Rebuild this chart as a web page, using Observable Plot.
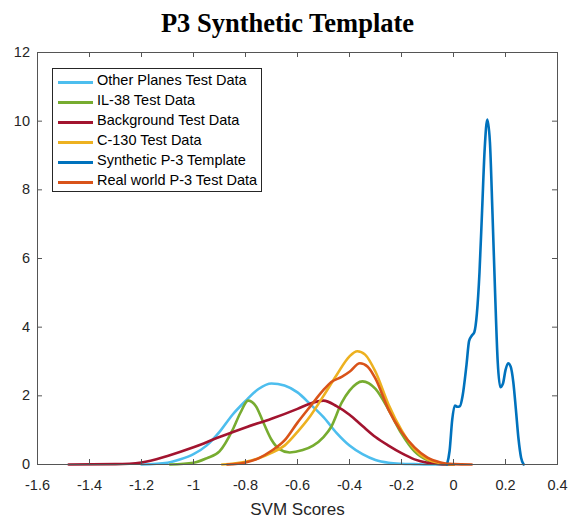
<!DOCTYPE html>
<html><head><meta charset="utf-8">
<script src="https://cdn.jsdelivr.net/npm/d3@7"></script>
<script src="https://cdn.jsdelivr.net/npm/@observablehq/plot@0.6"></script>
<style>
body{margin:0;background:#fff;}
#wrap{position:relative;width:575px;height:521px;overflow:hidden;}
#title{position:absolute;left:0;top:10px;width:575px;text-align:center;font:bold 26.5px "Liberation Serif","Times New Roman",serif;line-height:26.5px;color:#000;}
#legend{position:absolute;left:52px;top:68px;width:208px;height:119px;border:1px solid #262626;background:#fff;padding-top:3px;box-sizing:content-box;}
.row{position:relative;height:20.1px;line-height:20px;font:14.5px "Liberation Sans",Arial,sans-serif;color:#000;}
.row .sw{position:absolute;left:5px;top:9px;width:35px;height:3px;}
.row .lb{position:absolute;left:44px;top:0;white-space:nowrap;}
</style></head><body><div id="wrap"><div id="title">P3 Synthetic Template</div></div>
<script>
const titleText = "P3 Synthetic Template";
const xLabel = "SVM Scores";
const xTicks = [-1.6,-1.4,-1.2,-1.0,-0.8,-0.6,-0.4,-0.2,0,0.2,0.4];
const yTicks = [0,2,4,6,8,10,12];
const seriesNames = ["Other Planes Test Data","IL-38 Test Data","Background Test Data","C-130 Test Data","Synthetic P-3 Template","Real world P-3 Test Data"];
const seriesColors = ["#4DBEEE","#77AC30","#A2142F","#EDB120","#0072BD","#D95319"];

const otherX = [-1.2,-1.1,-1.05,-1.0,-0.95,-0.9,-0.85,-0.8,-0.75,-0.7,-0.65,-0.6,-0.55,-0.5,-0.45,-0.4,-0.35,-0.3,-0.25,-0.2,-0.15,-0.1,-0.05,0.0];
const otherY = [0,0.05,0.15,0.3,0.55,0.95,1.45,1.85,2.2,2.36,2.3,2.1,1.75,1.38,0.92,0.55,0.3,0.13,0.05,0.02,0.01,0,0,0];

const il38X = [-1.09,-1.0,-0.95,-0.9,-0.85,-0.82,-0.79,-0.76,-0.73,-0.7,-0.67,-0.63,-0.58,-0.54,-0.5,-0.47,-0.43,-0.4,-0.35,-0.3,-0.25,-0.2,-0.15,-0.1,-0.05,0.0];
const il38Y = [0,0.05,0.18,0.38,1.0,1.5,1.86,1.7,1.2,0.72,0.45,0.35,0.42,0.55,0.8,1.1,1.8,2.15,2.42,2.2,1.6,0.9,0.38,0.12,0.02,0];

const bgX = [-1.48,-1.3,-1.2,-1.1,-1.0,-0.9,-0.8,-0.7,-0.6,-0.55,-0.5,-0.45,-0.4,-0.35,-0.3,-0.25,-0.2,-0.15,-0.1,-0.05,0.0];
const bgY = [0,0.01,0.06,0.25,0.5,0.8,1.08,1.33,1.62,1.78,1.86,1.7,1.45,1.12,0.8,0.55,0.33,0.15,0.05,0.01,0];

const c130X = [-0.89,-0.8,-0.75,-0.7,-0.65,-0.6,-0.55,-0.5,-0.45,-0.4,-0.37,-0.34,-0.3,-0.25,-0.2,-0.15,-0.1,-0.05,0.0];
const c130Y = [0,0.08,0.18,0.34,0.55,0.95,1.42,2.0,2.6,3.15,3.3,3.2,2.7,1.75,1.0,0.45,0.15,0.04,0];

const synthX = [-0.025,-0.015,-0.005,0.005,0.015,0.025,0.035,0.05,0.06,0.07,0.08,0.09,0.1,0.11,0.12,0.13,0.14,0.15,0.16,0.17,0.18,0.19,0.2,0.21,0.22,0.23,0.24,0.25,0.26,0.27];
const synthY = [0,0.4,1.3,1.72,1.68,1.7,2.0,2.9,3.6,3.75,3.85,4.4,5.6,7.4,9.2,10.05,9.4,7.3,5.0,3.0,2.25,2.35,2.75,2.95,2.85,2.4,1.6,0.75,0.2,0];

const realX = [-0.87,-0.8,-0.75,-0.7,-0.65,-0.6,-0.55,-0.5,-0.47,-0.43,-0.4,-0.36,-0.33,-0.3,-0.25,-0.2,-0.15,-0.1,-0.05,0.0,0.07];
const realY = [0,0.06,0.18,0.4,0.7,1.22,1.7,2.17,2.4,2.55,2.7,2.95,2.85,2.5,1.6,0.95,0.5,0.2,0.06,0.01,0];

const seriesX = [otherX, il38X, bgX, c130X, synthX, realX];
const seriesY = [otherY, il38Y, bgY, c130Y, synthY, realY];

const W = 575, H = 521, mT = 52, mB = 57, mL = 37, mR = 18;
const frameH = H - mT - mB, frameW = W - mL - mR;
const fmt = d => String(Math.round(d * 10) / 10);
const axisColor = "#555";

const lineMarks = seriesNames.map((name, i) => {
  const rows = seriesX[i].map((x, j) => ({x, y: seriesY[i][j]}));
  return Plot.line(rows, {x: "x", y: "y", stroke: seriesColors[i], strokeWidth: 2.6, curve: "monotone-x"});
});

const chart = Plot.plot({
  width: W, height: H,
  marginTop: mT, marginBottom: mB, marginLeft: mL, marginRight: mR,
  style: {fontFamily: "'Liberation Sans', Arial, sans-serif", fontSize: "14.5px", color: "#262626", background: "#fff"},
  x: {domain: [-1.6, 0.4]},
  y: {domain: [0, 12]},
  marks: [
    ...lineMarks,
    Plot.frame({stroke: axisColor}),
    Plot.tickX(xTicks, {x: d => d, insetTop: frameH - 5, stroke: axisColor}),
    Plot.tickX(xTicks, {x: d => d, insetBottom: frameH - 5, stroke: axisColor}),
    Plot.tickY(yTicks, {y: d => d, insetRight: frameW - 5, stroke: axisColor}),
    Plot.tickY(yTicks, {y: d => d, insetLeft: frameW - 5, stroke: axisColor}),
    Plot.axisX({ticks: xTicks, tickSize: 0, tickPadding: 15, tickFormat: fmt, label: null, fontSize: 14.5}),
    Plot.axisY({ticks: yTicks, tickSize: 0, tickPadding: 7.5, tickFormat: fmt, label: null, fontSize: 14.5}),
    Plot.text([xLabel], {text: d => d, frameAnchor: "bottom", dy: 45, lineAnchor: "middle", fontSize: 17, fill: "#262626"})
  ]
});
chart.style.position = "absolute";
chart.style.left = "0px";
chart.style.top = "0px";
const wrap = document.getElementById("wrap");
wrap.insertBefore(chart, wrap.firstChild);

const legend = document.createElement("div");
legend.id = "legend";
seriesNames.forEach((name, i) => {
  const row = document.createElement("div");
  row.className = "row";
  const sw = document.createElement("div");
  sw.className = "sw";
  sw.style.background = seriesColors[i];
  const lb = document.createElement("div");
  lb.className = "lb";
  lb.textContent = name;
  row.appendChild(sw); row.appendChild(lb);
  legend.appendChild(row);
});
wrap.appendChild(legend);
</script>
</body></html>
